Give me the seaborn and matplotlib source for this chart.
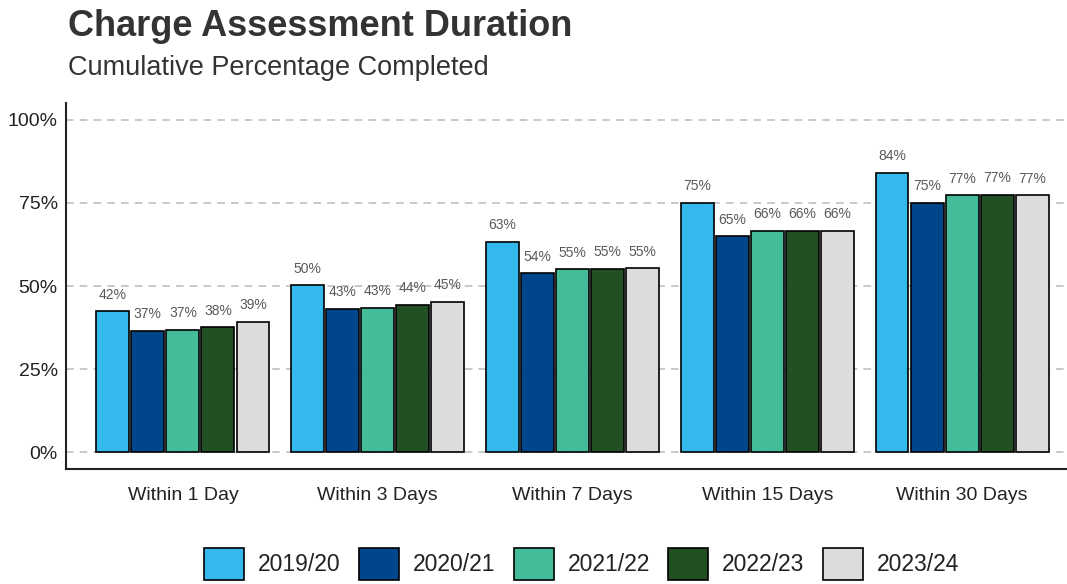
import matplotlib
matplotlib.use("Agg")
import matplotlib.pyplot as plt
import matplotlib.ticker as mticker
import pandas as pd
import seaborn as sns

# data
categories = ["Within 1 Day", "Within 3 Days", "Within 7 Days", "Within 15 Days", "Within 30 Days"]
years = ["2019/20", "2020/21", "2021/22", "2022/23", "2023/24"]
pct_2019 = [0.424, 0.502, 0.632, 0.750, 0.840]
pct_2020 = [0.366, 0.432, 0.538, 0.649, 0.750]
pct_2021 = [0.369, 0.434, 0.550, 0.665, 0.772]
pct_2022 = [0.376, 0.443, 0.551, 0.665, 0.774]
pct_2023 = [0.392, 0.453, 0.553, 0.665, 0.772]
colours = ["#33B9EC", "#00468B", "#44BB99", "#234F24", "#DCDCDC"]

df = pd.DataFrame({
    "category": categories * 5,
    "year": [y for y in years for _ in categories],
    "pct": pct_2019 + pct_2020 + pct_2021 + pct_2022 + pct_2023,
})

sns.set_theme(style="white")
plt.rcParams["font.family"] = ["Liberation Sans", "DejaVu Sans"]

fig = plt.figure(figsize=(10.67, 5.84), dpi=100)
ax = fig.add_axes([66 / 1067, 1 - 469 / 584, 1013 / 1067, (469 - 103) / 584])

sns.barplot(data=df, x="category", y="pct", hue="year", order=categories,
            hue_order=years, palette=colours, saturation=1, width=0.9, gap=0.06,
            edgecolor="black", linewidth=1.2, ax=ax)

for cont in ax.containers:
    for bar in cont:
        h = bar.get_height()
        ax.text(bar.get_x() + bar.get_width() / 2, h + 0.05, f"{h:.0%}",
                ha="center", va="center", fontsize=10, color="#595959")

ax.set_xlim(-0.6, 4.6)
ax.set_ylim(-0.05, 1.05)
ax.set_yticks([0, 0.25, 0.5, 0.75, 1.0])
ax.yaxis.set_major_formatter(mticker.PercentFormatter(1.0, decimals=0))
ax.grid(axis="y", linestyle=(0, (5, 4)), color="#BBBBBB", linewidth=1.1)
ax.set_axisbelow(True)
for s in ["top", "right"]:
    ax.spines[s].set_visible(False)
for s in ["left", "bottom"]:
    ax.spines[s].set_color("#222222")
    ax.spines[s].set_linewidth(1.5)
ax.tick_params(axis="both", length=4, width=1, color="#333333",
               labelsize=14, labelcolor="#222222")
ax.tick_params(axis="x", pad=9)
ax.tick_params(axis="y", pad=2)
ax.set_xlabel("")
ax.set_ylabel("")

ax.get_legend().remove()
handles = [plt.Rectangle((0, 0), 1, 1, facecolor=c, edgecolor="black", linewidth=1.2) for c in colours]
fig.legend(handles, years, loc="center", bbox_to_anchor=(0.545, 1 - 564 / 584), ncol=5,
           frameon=False, fontsize=16.5, handlelength=1.75, handleheight=1.75,
           handletextpad=0.6, columnspacing=0.8, labelcolor="#222222")

fig.text(68 / 1067, 1 - 27 / 584, "Charge Assessment Duration", fontsize=26,
         fontweight="bold", color="#333333", va="center", ha="left")
fig.text(68 / 1067, 1 - 68 / 584, "Cumulative Percentage Completed", fontsize=19.5,
         color="#333333", va="center", ha="left")

fig.savefig("out.png", dpi=100)
